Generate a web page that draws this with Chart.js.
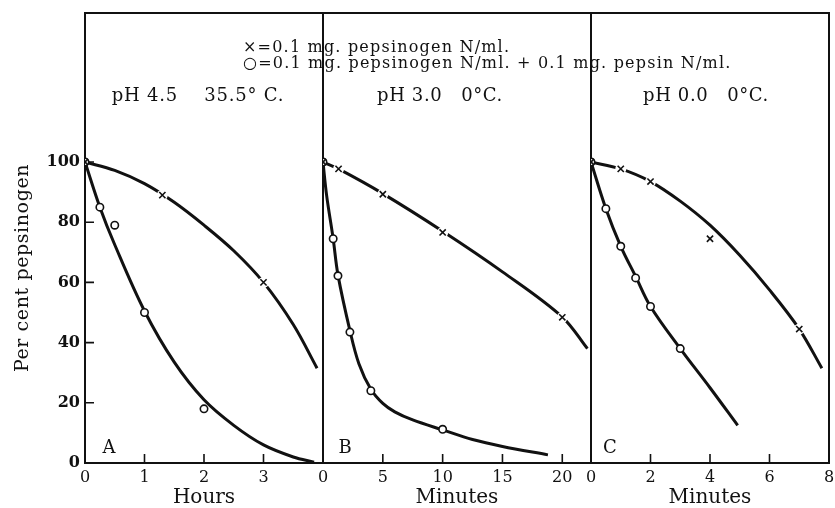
<!DOCTYPE html>
<html>
<head>
<meta charset="utf-8">
<script src="https://cdn.jsdelivr.net/npm/chart.js@4.4.1/dist/chart.umd.min.js"></script>
<style>
  html, body { margin: 0; padding: 0; background: #fff; }
  #wrap { position: relative; width: 835px; height: 508px; }
  #wrap canvas { position: absolute; left: 0; top: 0; }
</style>
</head>
<body>
<div id="wrap">
  <canvas id="panelA" width="835" height="508"></canvas>
  <canvas id="panelB" width="835" height="508"></canvas>
  <canvas id="panelC" width="835" height="508"></canvas>
</div>
<script>
// ── Data (per cent pepsinogen remaining) ──────────────────────────────
const pctTicks = [0, 20, 40, 60, 80, 100];

// A: pH 4.5, 35.5 °C, time in hours
const hoursTicks = [0, 1, 2, 3];
const hoursCross = [0, 1.3, 3];
const pctCrossA = [100, 89, 60];
const hoursCircle = [0, 0.25, 0.5, 1, 2];
const pctCircleA = [100, 85, 79, 50, 18];
const hoursCrossCurve = [0, 0.5, 1, 1.5, 2, 2.5, 3, 3.5, 3.9];
const pctCrossCurveA = [100, 97.2, 92.8, 86.6, 79, 70.5, 60, 46, 31.5];
const hoursCircleCurve = [0, 0.25, 0.5, 1, 1.5, 2, 2.5, 3, 3.5, 3.85];
const pctCircleCurveA = [100, 85, 72.5, 50.5, 33.5, 21, 12.5, 6, 2, 0.3];

// B: pH 3.0, 0 °C, time in minutes
const minTicksB = [0, 5, 10, 15, 20];
const minCrossB = [0, 1.3, 5, 10, 20];
const pctCrossB = [100, 97.7, 89.3, 76.6, 48.4];
const minCircleB = [0, 0.85, 1.25, 2.25, 4, 10];
const pctCircleB = [100, 74.5, 62.2, 43.5, 24, 11.2];
const minCrossCurveB = [0, 1.3, 5, 10, 15, 20, 22.1];
const pctCrossCurveB = [100, 97.7, 89.5, 77, 63.5, 48.5, 38];
const minCircleCurveB = [0, 0.3, 0.85, 1.25, 2.25, 3, 4, 5, 6, 7.5, 10, 12.5, 15, 18.8];
const pctCircleCurveB = [100, 89, 74.5, 62.5, 44, 33, 24.5, 19.8, 17, 14.3, 11, 7.8, 5.5, 2.7];

// C: pH 0.0, 0 °C, time in minutes
const minTicksC = [0, 2, 4, 6, 8];
const minCrossC = [0, 1, 2, 4, 7];
const pctCrossC = [100, 97.7, 93.5, 74.5, 44.5];
const minCircleC = [0, 0.5, 1, 1.5, 2, 3];
const pctCircleC = [100, 84.5, 72, 61.5, 52, 38];
const minCrossCurveC = [0, 1, 2, 3, 4, 5, 6, 7, 7.76];
const pctCrossCurveC = [100, 97.7, 93.5, 87, 79, 69, 57.5, 44.5, 31.5];
const minCircleCurveC = [0, 0.5, 1, 1.5, 2, 3, 4, 4.93];
const pctCircleCurveC = [100, 84.5, 72, 62, 52, 38, 25, 12.5];

const legendCross = '×=0.1 mg. pepsinogen N/ml.';
const legendCircle = '○=0.1 mg. pepsinogen N/ml. + 0.1 mg. pepsin N/ml.';

// ── Styling ───────────────────────────────────────────────────────────
const INK = '#111';
const SERIF = '"DejaVu Serif", "Liberation Serif", serif';

const pts = (xs, ys) => xs.map((x, i) => ({ x, y: ys[i] }));

// top/right frame plus inward tick marks
const framePlugin = {
    id: 'frame',
    beforeDatasetsDraw(chart) {
        const { ctx, chartArea: a, scales: { x, y } } = chart;
        ctx.save();
        ctx.strokeStyle = INK;
        ctx.lineWidth = 2;
        ctx.beginPath();
        ctx.moveTo(a.left, a.top);
        ctx.lineTo(a.right, a.top);
        ctx.lineTo(a.right, a.bottom);
        ctx.stroke();
        ctx.lineWidth = 1.6;
        ctx.beginPath();
        x.ticks.forEach(t => {
            const px = x.getPixelForValue(t.value);
            ctx.moveTo(px, a.bottom);
            ctx.lineTo(px, a.bottom - 9);
        });
        if (chart.options.scales.y.ticks.display) {
            y.ticks.forEach(t => {
                if (t.value === 0) return;
                const py = y.getPixelForValue(t.value);
                ctx.moveTo(a.left, py);
                ctx.lineTo(a.left + 9, py);
            });
        }
        ctx.stroke();
        ctx.restore();
    }
};

// legend lines, panel headings, panel letters
const notesPlugin = {
    id: 'notes',
    afterDraw(chart, args, opts) {
        const { ctx } = chart;
        ctx.save();
        ctx.fillStyle = INK;
        ctx.textBaseline = 'alphabetic';
        (opts.items || []).forEach(it => {
            ctx.font = it.font;
            ctx.textAlign = it.align || 'left';
            ctx.letterSpacing = (it.spacing || 0) + 'px';
            if (it.rotate) {
                ctx.save();
                ctx.translate(it.x, it.y);
                ctx.rotate(-Math.PI / 2);
                ctx.textBaseline = 'middle';
                ctx.fillText(it.text, 0, 0);
                ctx.restore();
            } else {
                ctx.fillText(it.text, it.x, it.y);
            }
        });
        ctx.letterSpacing = '0px';
        ctx.restore();
    }
};

function makePanel(id, p) {
    const crossPts = pts(p.crossX, p.crossY);
    return new Chart(document.getElementById(id), {
        type: 'scatter',
        data: {
            datasets: [
                {   // cross markers
                    data: crossPts,
                    pointStyle: 'crossRot', pointRadius: 4.4,
                    pointBorderColor: INK, pointBorderWidth: 1.6,
                    order: 1,
                },
                {   // circle markers
                    data: pts(p.circleX, p.circleY),
                    pointStyle: 'circle', pointRadius: 3.7,
                    pointBackgroundColor: '#fff', pointBorderColor: INK, pointBorderWidth: 1.6,
                    order: 1,
                },
                {   // white break in the curve behind each cross
                    data: crossPts.filter(d => d.x > 0),
                    pointStyle: 'circle', pointRadius: 5.5,
                    pointBackgroundColor: '#fff', pointBorderWidth: 0,
                    order: 2,
                },
                {
                    data: pts(p.crossCurveX, p.crossCurveY),
                    showLine: true, pointRadius: 0,
                    borderColor: INK, borderWidth: 3,
                    tension: 0.35,
                    order: 3,
                },
                {
                    data: pts(p.circleCurveX, p.circleCurveY),
                    showLine: true, pointRadius: 0,
                    borderColor: INK, borderWidth: 3,
                    tension: 0.35,
                    order: 3,
                },
            ]
        },
        options: {
            responsive: false,
            animation: false,
            events: [],
            layout: { padding: p.padding },
            plugins: {
                legend: { display: false },
                tooltip: { enabled: false },
                notes: { items: p.notes || [] },
            },
            scales: {
                x: {
                    type: 'linear', min: 0, max: p.xMax,
                    afterBuildTicks: s => { s.ticks = p.xTicks.map(v => ({ value: v })); },
                    afterFit: s => { s.height = 45; s.paddingLeft = 0; s.paddingRight = 0; },
                    grid: { display: false, drawTicks: false },
                    border: { display: true, color: INK, width: 2 },
                    ticks: { color: INK, padding: 5, maxRotation: 0, autoSkip: false,
                             font: { family: SERIF, size: 16 } },
                    title: { display: true, text: p.xTitle, color: INK, padding: { top: 0, bottom: -2 },
                             font: { family: SERIF, size: 20 } },
                },
                y: {
                    type: 'linear', min: 0, max: 149.5,
                    afterBuildTicks: s => { s.ticks = pctTicks.map(v => ({ value: v })); },
                    afterFit: s => { s.width = p.yWidth; s.paddingTop = 0; s.paddingBottom = 0; },
                    grid: { display: false, drawTicks: false },
                    border: { display: true, color: INK, width: 2 },
                    ticks: { display: p.yLabels, color: INK, padding: 5,
                             font: { family: SERIF, size: 16, weight: 'bold' } },
                },
            },
        },
        plugins: [framePlugin, notesPlugin],
    });
}

makePanel('panelA', {
    crossX: hoursCross, crossY: pctCrossA,
    circleX: hoursCircle, circleY: pctCircleA,
    crossCurveX: hoursCrossCurve, crossCurveY: pctCrossCurveA,
    circleCurveX: hoursCircleCurve, circleCurveY: pctCircleCurveA,
    xMax: 4.0, xTicks: hoursTicks, xTitle: 'Hours',
    yWidth: 85, yLabels: true,
    padding: { left: 0, top: 13, right: 512, bottom: 0 },
    notes: [
        { text: legendCross, x: 243, y: 52, spacing: 1.2, font: `16px ${SERIF}` },
        { text: legendCircle, x: 243, y: 68, spacing: 1.2, font: `16px ${SERIF}` },
        { text: 'pH 4.5    35.5° C.', x: 198, y: 101, align: 'center', spacing: 0.8, font: `18px ${SERIF}` },
        { text: 'pH 3.0   0°C.', x: 440, y: 101, align: 'center', spacing: 0.6, font: `18px ${SERIF}` },
        { text: 'pH 0.0   0°C.', x: 706, y: 101, align: 'center', spacing: 0.6, font: `18px ${SERIF}` },
        { text: 'A', x: 109, y: 453, align: 'center', font: `18px ${SERIF}` },
        { text: 'B', x: 345, y: 453, align: 'center', font: `18px ${SERIF}` },
        { text: 'C', x: 610, y: 453, align: 'center', font: `18px ${SERIF}` },
        { text: 'Per cent pepsinogen', x: 23, y: 268, align: 'center', rotate: true,
          spacing: 0.6, font: `19px ${SERIF}` },
    ],
});

makePanel('panelB', {
    crossX: minCrossB, crossY: pctCrossB,
    circleX: minCircleB, circleY: pctCircleB,
    crossCurveX: minCrossCurveB, crossCurveY: pctCrossCurveB,
    circleCurveX: minCircleCurveB, circleCurveY: pctCircleCurveB,
    xMax: 22.4, xTicks: minTicksB, xTitle: 'Minutes',
    yWidth: 0, yLabels: false,
    padding: { left: 323, top: 13, right: 244, bottom: 0 },
});

makePanel('panelC', {
    crossX: minCrossC, crossY: pctCrossC,
    circleX: minCircleC, circleY: pctCircleC,
    crossCurveX: minCrossCurveC, crossCurveY: pctCrossCurveC,
    circleCurveX: minCircleCurveC, circleCurveY: pctCircleCurveC,
    xMax: 8, xTicks: minTicksC, xTitle: 'Minutes',
    yWidth: 0, yLabels: false,
    padding: { left: 591, top: 13, right: 5, bottom: 0 },
});
</script>
</body>
</html>
